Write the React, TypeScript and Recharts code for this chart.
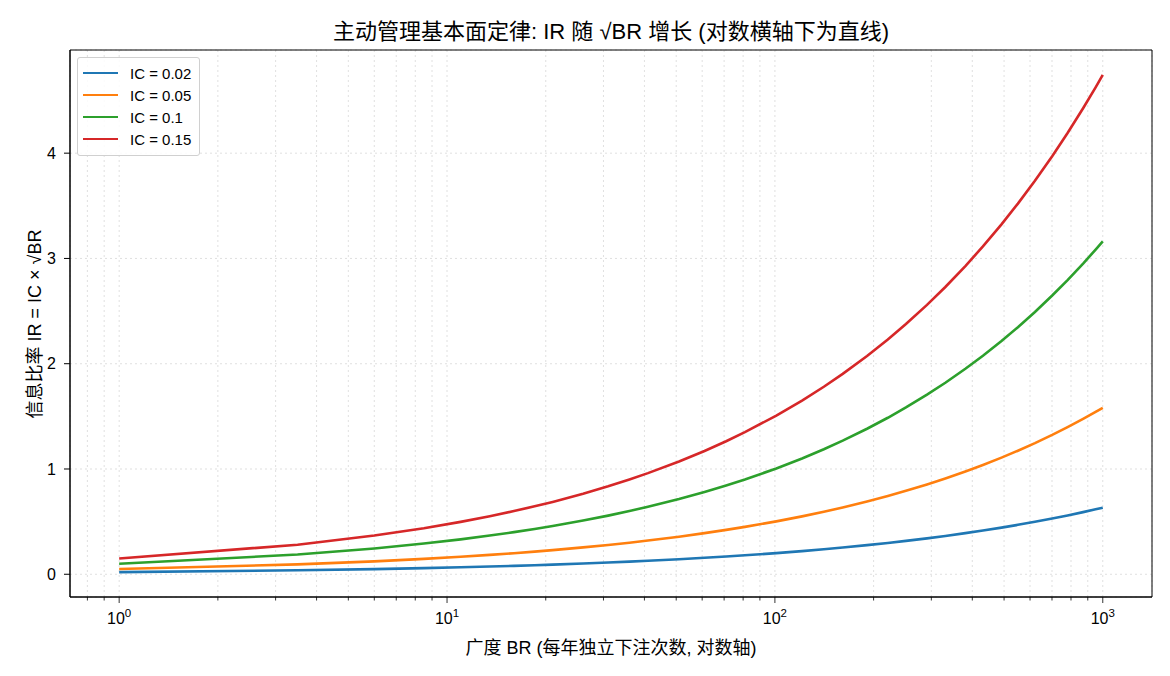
import React from "react";
import { LineChart, Line, XAxis, YAxis, CartesianGrid, ReferenceArea } from "recharts";

// 广度 BR 采样点（对数横轴）
const brValues = [
  1, 3.5, 6, 8.5, 11, 13.5, 16, 18.5, 21, 26, 31, 36, 41, 51, 61, 71, 81, 101,
  121, 141, 161, 191, 221, 251, 291, 331, 381, 431, 491, 551, 621, 701, 781, 871, 951, 1000,
];

const irIc002 = [
  0.02, 0.0374, 0.049, 0.0583, 0.0663, 0.0735, 0.08, 0.086, 0.0917, 0.102, 0.1114, 0.12,
  0.1281, 0.1428, 0.1562, 0.1685, 0.18, 0.201, 0.22, 0.2375, 0.2538, 0.2764, 0.2973, 0.3169,
  0.3412, 0.3639, 0.3904, 0.4152, 0.4432, 0.4695, 0.4984, 0.5295, 0.5589, 0.5903, 0.6168, 0.6325,
];
const irIc005 = [
  0.05, 0.0935, 0.1225, 0.1458, 0.1658, 0.1837, 0.2, 0.2151, 0.2291, 0.255, 0.2784, 0.3,
  0.3202, 0.3571, 0.3905, 0.4213, 0.45, 0.5025, 0.55, 0.5937, 0.6344, 0.691, 0.7433, 0.7922,
  0.8529, 0.9097, 0.976, 1.038, 1.1079, 1.1737, 1.246, 1.3238, 1.3973, 1.4756, 1.5419, 1.5811,
];
const irIc010 = [
  0.1, 0.1871, 0.2449, 0.2915, 0.3317, 0.3674, 0.4, 0.4301, 0.4583, 0.5099, 0.5568, 0.6,
  0.6403, 0.7141, 0.781, 0.8426, 0.9, 1.005, 1.1, 1.1874, 1.2689, 1.382, 1.4866, 1.5843,
  1.7059, 1.8193, 1.9519, 2.0761, 2.2159, 2.3473, 2.492, 2.6476, 2.7946, 2.9513, 3.0838, 3.1623,
];
const irIc015 = [
  0.15, 0.2806, 0.3674, 0.4373, 0.4975, 0.5511, 0.6, 0.6452, 0.6874, 0.7649, 0.8352, 0.9,
  0.9605, 1.0712, 1.1715, 1.2639, 1.35, 1.5075, 1.65, 1.7811, 1.9033, 2.073, 2.2299, 2.3765,
  2.5588, 2.729, 2.9279, 3.1141, 3.3238, 3.521, 3.738, 3.9715, 4.192, 4.4269, 4.6257, 4.7434,
];

const seriesNames = ["IC = 0.02", "IC = 0.05", "IC = 0.1", "IC = 0.15"];
const seriesKeys = ["ic002", "ic005", "ic010", "ic015"];
const seriesColors = ["#1f77b4", "#ff7f0e", "#2ca02c", "#d62728"];
const seriesValues = [irIc002, irIc005, irIc010, irIc015];

const xMajorTicks = [1, 10, 100, 1000];
const xAllTicks = [
  0.8, 0.9, 1, 2, 3, 4, 5, 6, 7, 8, 9, 10, 20, 30, 40, 50, 60, 70, 80, 90,
  100, 200, 300, 400, 500, 600, 700, 800, 900, 1000,
];
const yTicks = [0, 1, 2, 3, 4];

const X_DOMAIN: [number, number] = [0.708, 1413];
const Y_DOMAIN: [number, number] = [-0.216, 4.98];

const chartData = brValues.map((br, i) => {
  const row: Record<string, number> = { br };
  seriesKeys.forEach((k, j) => (row[k] = seriesValues[j][i]));
  return row;
});

const FONT = '"Liberation Sans", Arial, "Noto Sans CJK SC", sans-serif';

const XTick = (props: any) => {
  const { x, y, payload } = props;
  const v = payload.value;
  const major = xMajorTicks.includes(v);
  if (!major) {
    return <line x1={x} x2={x} y1={y} y2={y + 3.5} stroke="#000" strokeWidth={0.8} />;
  }
  const exp = Math.round(Math.log10(v));
  return (
    <g>
      <line x1={x} x2={x} y1={y} y2={y + 6} stroke="#000" strokeWidth={0.8} />
      <text x={x} y={y + 27} textAnchor="middle" fontSize={16} fill="#000" fontFamily={FONT}>
        10
        <tspan dy={-7} fontSize={11.5}>{exp}</tspan>
      </text>
    </g>
  );
};

const LegendBox = () => (
  <div
    style={{
      position: "absolute",
      left: 77,
      top: 57,
      width: 121,
      height: 97,
      border: "1px solid #d0d0d0",
      borderRadius: 3,
      background: "rgba(255,255,255,0.85)",
      fontFamily: FONT,
      fontSize: 15,
    }}
  >
    {seriesNames.map((n, i) => (
      <div key={n} style={{ position: "absolute", left: 5, top: 6 + i * 22, height: 18, display: "flex", alignItems: "center" }}>
        <div style={{ width: 35, height: 2.5, background: seriesColors[i] }} />
        <span style={{ marginLeft: 12, whiteSpace: "nowrap" }}>{n}</span>
      </div>
    ))}
  </div>
);

export default function App() {
  return (
    <div style={{ position: "absolute", left: 0, top: 0, width: 1170, height: 676, background: "#fff" }}>
      <LineChart
        width={1170}
        height={676}
        data={chartData}
        margin={{ top: 50, right: 18, bottom: 0, left: 0 }}
      >
        <CartesianGrid stroke="#d8d8d8" strokeDasharray="2 3" strokeWidth={0.8} />
        <XAxis
          dataKey="br"
          type="number"
          scale="log"
          domain={X_DOMAIN}
          allowDataOverflow
          ticks={xAllTicks}
          interval={0}
          tick={<XTick />}
          tickSize={0}
          tickMargin={0}
          tickLine={false}
          height={79}
          axisLine={{ stroke: "#000" }}
        />
        <YAxis
          type="number"
          domain={Y_DOMAIN}
          allowDataOverflow
          ticks={yTicks}
          interval={0}
          width={70}
          tickSize={6}
          tickMargin={8}
          tickLine={{ stroke: "#000" }}
          axisLine={{ stroke: "#000" }}
          tick={{ fontSize: 16, fill: "#000", fontFamily: FONT }}
        />
        <ReferenceArea x1={X_DOMAIN[0]} x2={X_DOMAIN[1]} y1={Y_DOMAIN[0]} y2={Y_DOMAIN[1]} fill="none" stroke="#000" strokeWidth={1} />
        {seriesKeys.map((k, i) => (
          <Line
            key={k}
            type="linear"
            dataKey={k}
            name={seriesNames[i]}
            stroke={seriesColors[i]}
            strokeWidth={2.6}
            dot={false}
            isAnimationActive={false}
          />
        ))}
      </LineChart>
      <LegendBox />
      <div
        style={{
          position: "absolute",
          left: 70,
          width: 1082,
          top: 20,
          lineHeight: "24px",
          textAlign: "center",
          fontFamily: FONT,
          fontSize: 22,
          color: "#000",
        }}
      >
        主动管理基本面定律: IR 随 √BR 增长 (对数横轴下为直线)
      </div>
      <div
        style={{
          position: "absolute",
          left: 70,
          width: 1082,
          top: 637,
          lineHeight: "22px",
          textAlign: "center",
          fontFamily: FONT,
          fontSize: 18,
          color: "#000",
        }}
      >
        广度 BR (每年独立下注次数, 对数轴)
      </div>
      <div
        style={{
          position: "absolute",
          left: 35,
          top: 324,
          lineHeight: "22px",
          transform: "translate(-50%, -50%) rotate(-90deg)",
          whiteSpace: "nowrap",
          fontFamily: FONT,
          fontSize: 18,
          color: "#000",
        }}
      >
        信息比率 IR = IC × √BR
      </div>
    </div>
  );
}
